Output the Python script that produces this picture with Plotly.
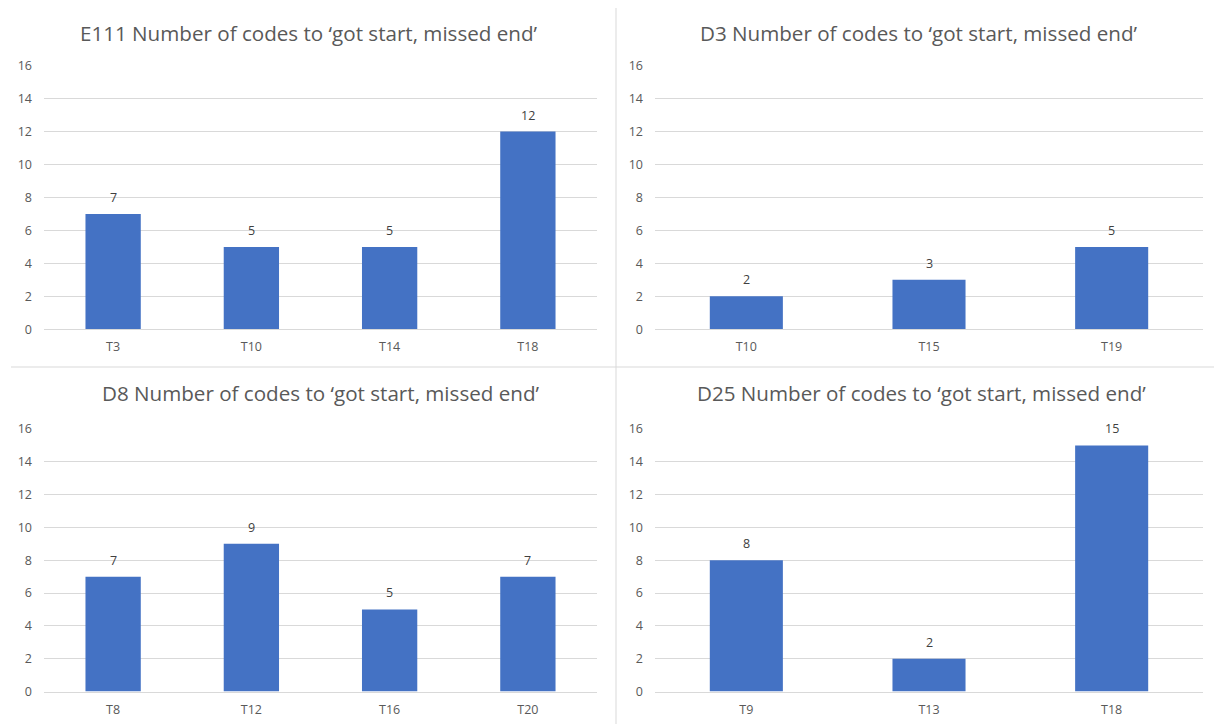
import plotly.graph_objects as go

# Per-panel data: tasks and number of codes
e111_tasks = ["T3", "T10", "T14", "T18"]
e111_counts = [7, 5, 5, 12]

d3_tasks = ["T10", "T15", "T19"]
d3_counts = [2, 3, 5]

d8_tasks = ["T8", "T12", "T16", "T20"]
d8_counts = [7, 9, 5, 7]

d25_tasks = ["T9", "T13", "T18"]
d25_counts = [8, 2, 15]

titles = [
    "E111 Number of codes to \u2018got start, missed end\u2019",
    "D3 Number of codes to \u2018got start, missed end\u2019",
    "D8 Number of codes to \u2018got start, missed end\u2019",
    "D25 Number of codes to \u2018got start, missed end\u2019",
]
y_ticks = [0, 2, 4, 6, 8, 10, 12, 14, 16]

W, H = 1214, 724
BAR = "#4472C4"
GRID = "#D9D9D9"
TXT = "#595959"
FONT = "Open Sans, Liberation Sans, Arial, sans-serif"


def px_x(v):
    return v / W


def px_y(v):
    return 1 - v / H


# (categories, values, plot x-range px, plot y-range px (top, bottom), title centre x, title y)
panels = [
    (e111_tasks, e111_counts, (44, 597), (65.7, 329.3), 309, 33),
    (d3_tasks, d3_counts, (655, 1203), (65.7, 329.3), 919, 33),
    (d8_tasks, d8_counts, (44, 597), (429, 691.5), 321, 393),
    (d25_tasks, d25_counts, (655, 1203), (429, 691.5), 921, 393),
]

fig = go.Figure()
layout = {}
annotations = []
for i, (cats, vals, (x0, x1), (ytop, ybot), tx, ty) in enumerate(panels, start=1):
    xa = "x" if i == 1 else f"x{i}"
    ya = "y" if i == 1 else f"y{i}"
    fig.add_trace(go.Bar(
        x=cats, y=vals, xaxis=xa, yaxis=ya,
        marker=dict(color=BAR, line=dict(width=0)),
        width=0.4, showlegend=False, hoverinfo="x+y",
    ))
    # value labels above each bar
    for c, v in zip(cats, vals):
        annotations.append(dict(
            x=c, y=v, xref=xa, yref=ya, text=str(v), showarrow=False,
            xanchor="center", yanchor="bottom", yshift=6,
            font=dict(size=12.5, color="#404040", family=FONT),
        ))
    layout[f"xaxis{'' if i == 1 else i}"] = dict(
        domain=[px_x(x0), px_x(x1)], anchor=ya, automargin=False,
        showgrid=False, showline=True, linecolor=GRID, linewidth=1,
        ticks="", ticklabelstandoff=6,
        tickfont=dict(size=12.5, color=TXT, family=FONT),
        fixedrange=True,
    )
    layout[f"yaxis{'' if i == 1 else i}"] = dict(
        domain=[px_y(ybot), px_y(ytop)], anchor=xa, automargin=False,
        range=[0, 16], tickvals=y_ticks,
        showgrid=True, gridcolor=GRID, gridwidth=1,
        zeroline=False, showline=False, ticks="",
        ticklabelstandoff=11,
        tickfont=dict(size=12.5, color=TXT, family=FONT),
        fixedrange=True,
    )
    annotations.append(dict(
        text=titles[i - 1], xref="paper", yref="paper",
        x=px_x(tx), y=px_y(ty),
        xanchor="center", yanchor="middle", showarrow=False,
        font=dict(size=20.6, color=TXT, family=FONT),
    ))

# Panel separators
shapes = [
    dict(type="line", xref="paper", yref="paper",
         x0=px_x(616), x1=px_x(616), y0=px_y(8), y1=0,
         line=dict(color=GRID, width=1)),
    dict(type="line", xref="paper", yref="paper",
         x0=px_x(11), x1=1, y0=px_y(367), y1=px_y(367),
         line=dict(color=GRID, width=1)),
]

fig.update_layout(
    width=W, height=H,
    margin=dict(l=0, r=0, t=0, b=0, autoexpand=False),
    paper_bgcolor="white", plot_bgcolor="white",
    annotations=annotations, shapes=shapes,
    **layout,
)

fig.write_html("out.html")
